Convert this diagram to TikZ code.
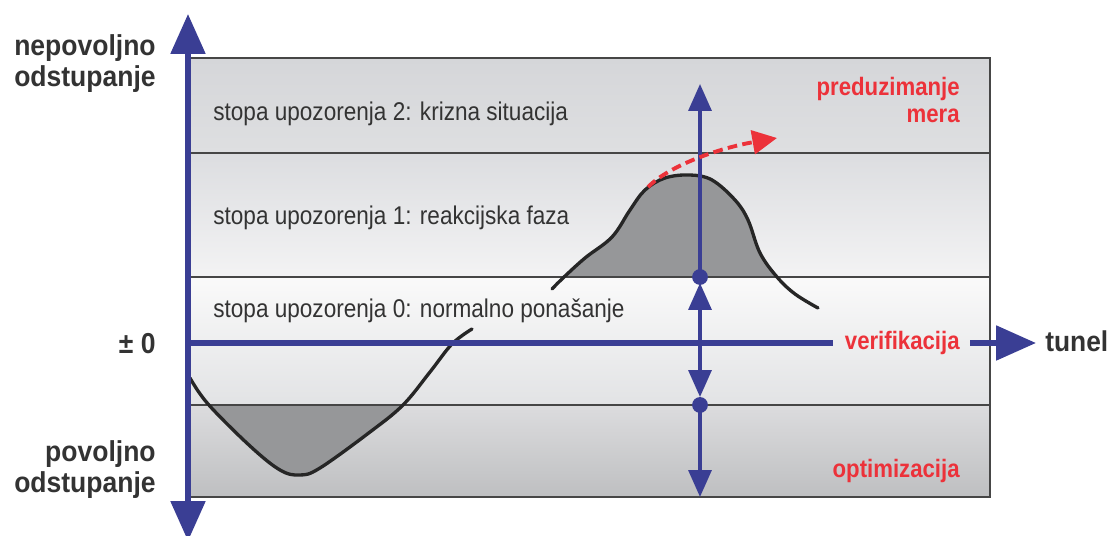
\documentclass[tikz,border=0pt]{standalone}
\usepackage{fontspec}
\setmainfont{Liberation Sans}
\newfontfamily\condfont[FakeStretch=0.88]{Liberation Sans}
\newfontfamily\sidefont[FakeStretch=0.92]{Liberation Sans}
\usetikzlibrary{arrows.meta}
\definecolor{axblue}{RGB}{58,62,148}
\definecolor{redc}{RGB}{236,50,58}
\definecolor{txtgray}{RGB}{51,51,51}
\definecolor{fillgray}{RGB}{150,151,153}
\definecolor{linegray}{RGB}{70,70,70}
\begin{document}
\begin{tikzpicture}[x=0.02cm,y=-0.02cm,
  bandtxt/.style={font=\condfont\fontsize{14.6}{17}\selectfont, text=txtgray, anchor=base west, inner sep=0},
  sidelbl/.style={font=\sidefont\fontsize{16.4}{18.1}\selectfont\bfseries, text=txtgray, align=right, inner sep=0},
  redlbl/.style={font=\condfont\fontsize{14.35}{15.9}\selectfont\bfseries, text=redc, align=right, inner sep=0},
  bigarrow/.style={line width=3.1pt, draw=axblue},
  bighead/.tip={Triangle[length=22.7pt,width=19.3pt]},
  smallhead/.tip={Triangle[length=15.3pt,width=13pt]},
  thinblue/.style={line width=2pt, draw=axblue},
  bandline/.style={draw=linegray, line width=0.6pt},
  curveline/.style={draw=black!85, line width=1.9pt, line cap=round},
  dotnode/.style={circle, fill=axblue, inner sep=0, minimum size=9pt},
]
\useasboundingbox (0,0) rectangle (1112,536);
% background bands
\shade[top color={rgb,255:red,213;green,214;blue,217}, bottom color={rgb,255:red,222;green,223;blue,225}] (190,58) rectangle (990,153);
\shade[top color={rgb,255:red,220;green,221;blue,224}, bottom color={rgb,255:red,243;green,243;blue,244}] (190,153) rectangle (990,277);
\shade[top color={rgb,255:red,250;green,250;blue,250}, bottom color={rgb,255:red,226;green,227;blue,229}] (190,277) rectangle (990,405);
\shade[top color={rgb,255:red,220;green,220;blue,222}, bottom color={rgb,255:red,190;green,191;blue,193}] (190,405) rectangle (990,497);
% gray fills
\begin{scope}
\clip (190,405) rectangle (990,497);
\fill[fillgray] plot[smooth, tension=0.6] coordinates {(190,378) (208,404) (250,446) (280,470) (300,475) (320,468) (370,432) (403,405) (430,372) (452,344) (472,329)} -- cycle;
\end{scope}
\begin{scope}
\clip (190,58) rectangle (990,277);
\fill[fillgray] plot[smooth, tension=0.6] coordinates {(552,289) (563,278) (585,258) (612,237) (630,210) (645,190) (665,178) (690,175) (712,180) (735,200) (748,220) (760,253) (777,277) (795,294) (818,308)} -- cycle;
\end{scope}
% band lines and frame
\coordinate (bl2) at (188,153); \coordinate (br2) at (990,153);
\coordinate (bl1) at (188,277); \coordinate (br1) at (990,277);
\coordinate (bl0) at (188,405); \coordinate (br0) at (990,405);
\draw[bandline] (bl2) -- (br2);
\draw[bandline] (bl1) -- (br1);
\draw[bandline] (bl0) -- (br0);
\coordinate (ftl) at (188,58); \coordinate (ftr) at (990,58);
\coordinate (fbr) at (990,497); \coordinate (fbl) at (188,497);
\draw[draw=linegray, line width=0.9pt] (ftl) -- (ftr) -- (fbr) -- (fbl);
% curves
\draw[curveline] plot[smooth, tension=0.6] coordinates {(190,378) (208,404) (250,446) (280,470) (300,475) (320,468) (370,432) (403,405) (430,372) (452,344) (472,329)};
\draw[curveline] plot[smooth, tension=0.6] coordinates {(552,289) (563,278) (585,258) (612,237) (630,210) (645,190) (665,178) (690,175) (712,180) (735,200) (748,220) (760,253) (777,277) (795,294) (818,308)};
% band texts
\node[bandtxt] (t2) at (213,121) {stopa upozorenja 2: krizna situacija};
\node[bandtxt] (t1) at (213,225) {stopa upozorenja 1: reakcijska faza};
\node[bandtxt] (t0) at (213,318) {stopa upozorenja 0: normalno ponašanje};
% zero line and tunnel arrow
\node[redlbl, anchor=base east] (verif) at (960,350) {verifikacija};
\node[font=\sidefont\fontsize{16.3}{18}\selectfont\bfseries, text=txtgray, inner sep=0, anchor=base west] (tunel) at (1045,352) {tunel};
\coordinate (z0) at (188,343);
\coordinate (z1) at (833,343);
\coordinate (a0) at (970,343);
\coordinate (a1) at (1036,343);
\draw[bigarrow] (z0) -- (z1);
\draw[bigarrow, -bighead] (a0) -- (a1);
% main vertical axis
\coordinate (vb) at (188,541);
\coordinate (vt) at (188,14);
\draw[bigarrow, bighead-bighead] (vb) -- (vt);
% measurement vertical
\node[dotnode] (d1) at (700,277) {};
\node[dotnode] (d0) at (700,405) {};
\coordinate (m0) at (700,343);
\coordinate (mtop) at (700,84);
\coordinate (mup) at (700,283);
\coordinate (mdn) at (700,397);
\coordinate (mbot) at (700,497);
\draw[thinblue, -smallhead] (d1.center) -- (mtop);
\draw[thinblue, -smallhead] (m0) -- (mup);
\draw[thinblue, -smallhead] (m0) -- (mdn);
\draw[thinblue, -smallhead] (d0.center) -- (mbot);
% red dashed arrow
\coordinate (r0) at (648,187);
\coordinate (r1) at (777,138);
\draw[draw=redc, line width=2.2pt, dash pattern=on 5.5pt off 3pt, -{Triangle[length=14pt,width=13.5pt]}] (r0) .. controls (670,165) and (720,148) .. (r1);
% red labels
\node[redlbl, anchor=base east] (prez) at (960,123) {preduzimanje\\mera};
\node[redlbl, anchor=base east] (optim) at (960,478) {optimizacija};
% side labels
\node[sidelbl, anchor=base east] (nepov) at (156,87) {nepovoljno\\odstupanje};
\node[sidelbl, anchor=base east] (pm0) at (156,354) {± 0};
\node[sidelbl, anchor=base east] (pov) at (156,493) {povoljno\\odstupanje};
\end{tikzpicture}
\end{document}
